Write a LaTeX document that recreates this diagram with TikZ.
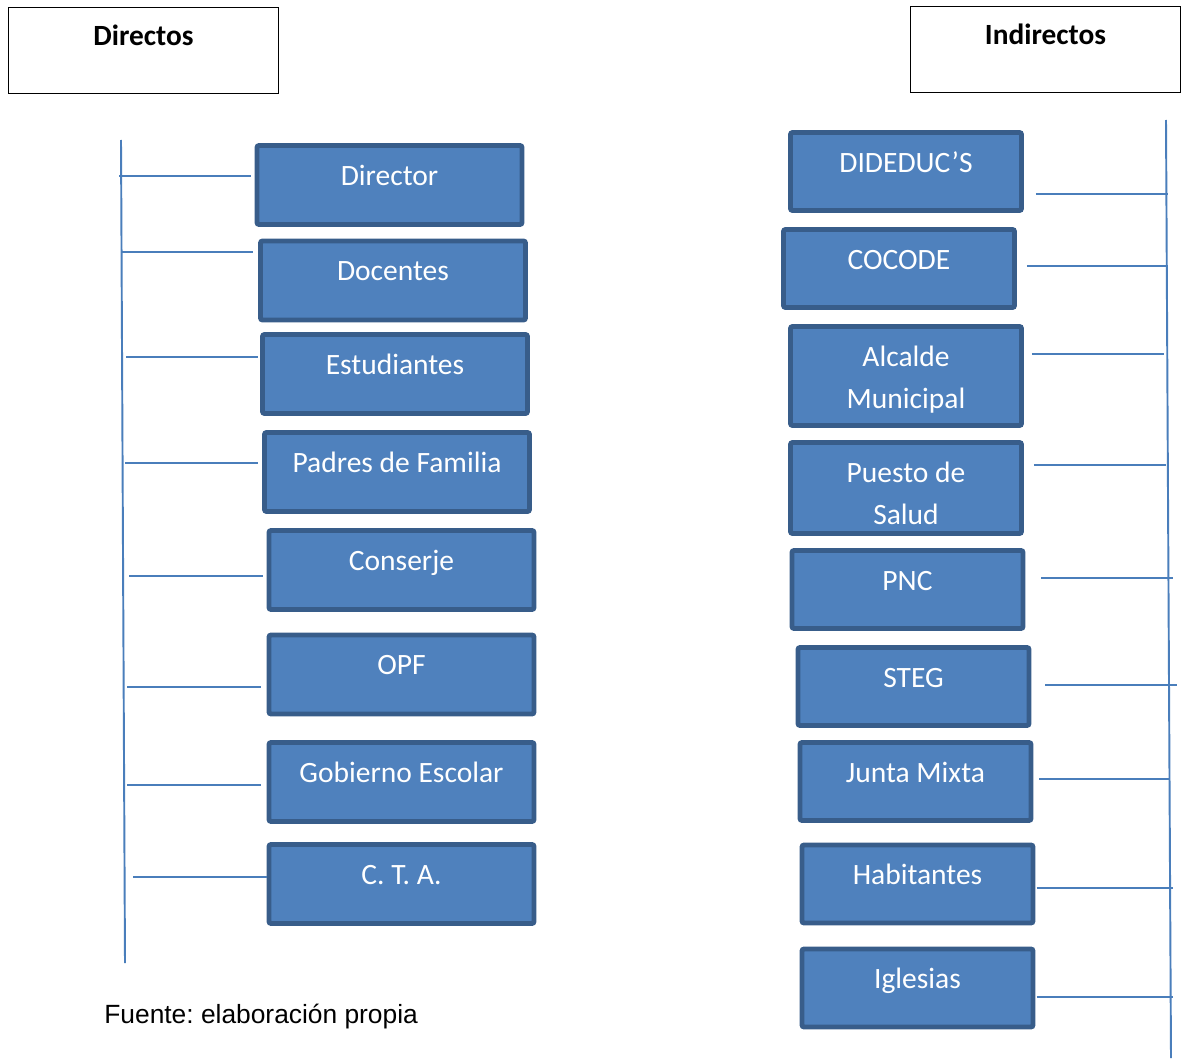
\documentclass[tikz,border=0pt]{standalone}
\usepackage{fontspec}
\setmainfont{Carlito}
\newfontfamily\arialfont{Liberation Sans}
\usetikzlibrary{positioning}
\definecolor{unitfill}{HTML}{4F81BD}
\definecolor{unitborder}{HTML}{385D8A}
\definecolor{linkblue}{HTML}{4A7EBB}
\frenchspacing
\tikzset{
    group box/.style={
        draw=black,line width=0.6pt,
        minimum width=5.4cm,minimum height=1.72cm
    },
    group title/.style={
        font=\fontsize{16.7}{19}\selectfont\bfseries,
        anchor=base,inner sep=0pt
    },
    unit/.style={
        draw=unitborder,fill=unitfill,
        line width=2.8pt,rounded corners=1.2pt,
        inner sep=0pt
    },
    unit text/.style={
        text=white,align=center,anchor=base,inner sep=0pt,
        font=\fontsize{16.8}{23.8}\selectfont
    },
    link/.style={draw=linkblue,line width=1.1pt},
}

\begin{document}
\begin{tikzpicture}[x=0.02cm,y=-0.02cm]
    \useasboundingbox (0,0) rectangle (1184,1061);
    % headers
    \node[group box] (dir-box) at (143.5,50.5) {};
    \node[group title] (dir-title) at ([yshift=-21.8pt]dir-box.north) {Directos};
    \node[group box] (ind-box) at (1045.5,49.5) {};
    \node[group title] (ind-title) at ([yshift=-21.8pt]ind-box.north) {Indirectos};
    % left spine
    \coordinate (ls-top) at (121,140);
    \coordinate (ls-bot) at (125,963);
    \draw[link] (ls-top) -- (ls-bot);
    \foreach \x/\y/\name/\txt/\ly/\lx/\g in {
        389.5/185/director/Director/176/119/2.3pt,
        393/280.5/docentes/Docentes/252/121/2.8pt,
        395/374/estudiantes/Estudiantes/357/126/1.1pt,
        397/472/padres/Padres de Familia/463/125/2.3pt,
        401.5/570/conserje/Conserje/576/129/2.3pt,
        401.5/674.5/opf/OPF/687/127/3.4pt,
        401.5/782/gobierno/Gobierno Escolar/785/127/3.4pt,
        401.5/884/cta/C. T. A./877/133/0pt}
    {
        \node[unit,minimum width=5.3cm,minimum height=1.58cm] (\name) at (\x,\y) {};
        \node[unit text] (\name-t) at ([yshift=-24pt]\name.north) {\txt};
        \draw[link,shorten >=\g] (\lx,\ly) -- (\name.west |- 0,\ly);
    }
    % right spine
    \coordinate (rs-top) at (1166,120);
    \coordinate (rs-bot) at (1171,1058);
    \draw[link] (rs-top) -- (rs-bot);
    \foreach \x/\y/\h/\ty/\name/\txt/\ly/\lx/\g in {
        906/171.5/1.56cm/24pt/dideduc/DIDEDUC’S/194/1168/6.8pt,
        899/268.5/1.56cm/24pt/cocode/COCODE/266/1168/5.7pt,
        906/376/1.98cm/47.8pt/alcalde/{Alcalde\\Municipal}/354/1164/4.5pt,
        906/488/1.82cm/47.8pt/salud/{Puesto de\\Salud}/465/1166/5.7pt,
        907.5/589.5/1.56cm/24pt/pnc/PNC/578/1173/9.1pt,
        913.5/686.5/1.56cm/24pt/steg/STEG/685/1177/7.9pt,
        915.5/781.5/1.56cm/24pt/junta/Junta Mixta/779/1170/3.4pt,
        917.5/884/1.56cm/24pt/habitantes/Habitantes/888/1173/0.6pt,
        917.5/988/1.56cm/24pt/iglesias/Iglesias/997/1173/0.6pt}
    {
        \node[unit,minimum width=4.62cm,minimum height=\h] (\name) at (\x,\y) {};
        \node[unit text] (\name-t) at ([yshift=-\ty]\name.north) {\txt};
        \draw[link,shorten <=\g] (\name.east |- 0,\ly) -- (\lx,\ly);
    }
    % source
    \node[font=\arialfont\fontsize{15}{18}\selectfont,anchor=base west,inner sep=0pt]
        (fuente) at (104,1023) {Fuente: elaboración propia};
\end{tikzpicture}
\end{document}
